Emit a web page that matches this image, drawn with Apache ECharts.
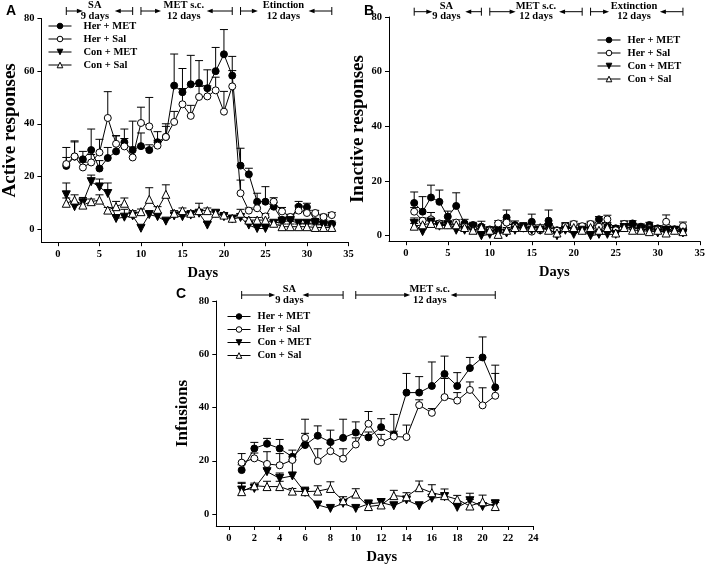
<!DOCTYPE html>
<html><head><meta charset="utf-8">
<script src="https://cdn.jsdelivr.net/npm/echarts@6/dist/echarts.min.js"></script>
<style>html,body{margin:0;padding:0;background:#fff}#c{width:708px;height:567px}</style>
</head><body><div id="c"></div>
<script>
// ---------------- DATA ----------------
const groups = ['Her + MET', 'Her + Sal', 'Con + MET', 'Con + Sal'];
const daysAB = [1,2,3,4,5,6,7,8,9,10,11,12,13,14,15,16,17,18,19,20,21,22,23,24,25,26,27,28,29,30,31,32,33];
const daysC = [1,2,3,4,5,6,7,8,9,10,11,12,13,14,15,16,17,18,19,20,21];
const xTicksAB = [0,5,10,15,20,25,30,35];
const xTicksC = [0,2,4,6,8,10,12,14,16,18,20,22,24];
const yTicks = [0,20,40,60,80];

// Panel A: active responses
const aHerMet    = [24,27.5,26.5,30,23,27,29.5,33,30,31.5,30,33,35,54.5,52,55,55.5,53.5,60,66.4,58.3,24.1,20.8,10.4,10.4,8.5,3.5,4,8.5,8.3,3,2.5,2];
const aHerMetErr = [7,6,3,8,3,4,6,5,11,5,2,4,5,12,9,11,8.5,7,9,9.4,7.3,6.6,2.3,3.2,5.7,1.5,1,1,2,1.5,1,1,1];
const aHerSal    = [24.7,27.6,23.4,25.3,29.1,42.2,32.4,31.4,27.2,40.3,39,31.7,35,40.7,47.4,43,50.2,50.4,52.7,44.6,54.2,13.6,7,7.9,4.8,10.4,6.7,4.6,7,6.1,6.1,4.6,5.3];
const aHerSalErr = [2.5,5.5,2,3,5,10,3,3,4,6,11,2,4,4,6,4,4,4,5,7.7,6,5,1,2,1,1.5,1.5,1,2,1,1,1,1];
const aConMet    = [13,8.5,10,18,16,13.5,4,4.5,5,0.3,5.5,4.7,3,5,4.7,5.3,6,1.5,6,4.7,3.8,4.4,1.5,0.2,0.2,2.2,2.8,3.2,2.2,2.2,2.2,1.5,0.9];
const aConMetErr = [4.5,1,2,2.5,3,4,1,3,1,1,1,1,1,1,1,1,1,1,1,1,1,1,1,1,1,1,1,1,1,1,1,1,1];
const aConSal    = [9.8,11,9.1,10.4,11,7.2,8.5,9.8,6,6.6,11.3,7.5,13.2,6,7,6,7,7,6,5.3,4.1,6,3.4,3.4,3.4,2.2,0.9,0.9,0.9,0.9,0.6,0.6,0.6];
const aConSalErr = [2,2,2,1,2,1,2,2,1,1,4.4,1,3.6,1,1,1,2.8,1,1,1,1,1.5,1,1,1,1,1,1,1,1,1,1,1];

// Panel B: inactive responses
const bHerMet    = [12,8.8,14,12.4,7,10.9,4.5,3.9,3.3,2.3,3.3,6.7,3.9,3.3,5.1,2.3,5.5,2,3.3,2,2.7,3.3,6,3.3,2.7,3.9,4.5,3.3,3.9,2.7,2.3,2.3,2];
const bHerMetErr = [4,5.5,4.5,4.3,2,4.8,1.5,1,2,1,1.5,2.7,1.5,1.5,2.8,1,3.9,1,1.5,1,1.5,1.5,1,1.5,1,1.5,1,1,1,1,1,1,1];
const bHerSal    = [8.8,5.5,6,4.5,3.9,4.8,3.3,2.7,2.3,2,4.5,4.8,3.3,2.7,1.5,2,3.3,1.8,3.5,4.3,3.5,4.3,3.3,6,2,4.3,3.3,2,2.7,2.3,5.1,2.3,3.5];
const bHerSalErr = [1.5,1,2.5,1,1.5,1,1,1,1,1,1,1,1,1,1,1,1,1,1,1,1,1,1,1.5,1,1,1,1,1,1,2.5,1,1.5];
const bConMet    = [4.5,1.5,5,3.5,4,2,2,3,0,0.5,1,1,2,3,2,2,3,0,2,0.5,2,0,0.5,0.5,0.5,3,3,2.5,2,1,2,2,1];
const bConMetErr = [2,1,1.5,1,1,1,1,1,1,1,1,1,1,1,1,1,1,1,1,1,1,1,1,1,1,1,1,1,1,1,1,1,1];
const bConSal    = [3.5,4,4.5,4,4,4,3,2,3,2,0.5,2,3,3,3,3,2,1,3,3,2,3,2,3,1,3,2,2,1.5,2,1,2,1.5];
const bConSalErr = [1,1.5,1,1,1,1,1,1,1,1,1,1,1,1,1,1,1,1,1,1,1,1,1,1,1,1,1,1,1,1,1,1,1];

// Panel C: infusions
const cHerMet    = [16.5,24.6,26.4,24.6,21.5,25.9,29.4,27,28.6,30.6,28.8,32.6,29.8,45.6,45.6,48.1,52.6,48.1,54.8,58.8,47.6];
const cHerMetErr = [2,2.3,2,3.4,2.5,4.4,3.7,4.5,7,4,2,3.2,7.6,7.2,6,9,6.7,5,4,7.7,8.3];
const cHerSal    = [19.3,20.9,18.8,18.3,20.3,28.6,19.9,23.6,20.8,26.1,33.9,26.9,29.1,28.9,40.9,38,43.9,42.6,46.6,40.8,44.4];
const cHerSalErr = [3.4,2,4.6,4.4,2,7,4.6,3,3.7,2.5,4.6,3,2,4.5,2,1.6,7,3,3,6.6,8.4];
const cConMet    = [9,9.6,15.9,13.4,14.3,8.1,3.4,2.1,4,2.1,3.8,4.3,3.1,5.3,3.1,5.9,6.5,2.5,5,2.8,3.8];
const cConMetErr = [2.5,1.5,1,2,6,2,1,1,1,1,1,1.5,1,1,1,1.5,1.5,1,2.8,1,1.5];
const cConSal    = [8.4,10.6,10.3,10.3,8.6,8.4,8.6,9.6,5,7.5,2.8,3.4,6.9,6.5,9.9,8,6.9,5.5,3,4.6,2.8];
const cConSalErr = [3.5,1,2,2,1,1.5,2,2.5,1.5,2,1.5,2,2,1.5,2.5,3,2.5,1.5,2.5,2.5,1.5];

const phasesA = [
  {from:1, to:9, top:'SA', bottom:'9 days'},
  {from:10, to:21, top:'MET s.c.', bottom:'12 days'},
  {from:22, to:33, top:'Etinction', bottom:'12 days'}
];
const phasesB = [
  {from:1, to:9, top:'SA', bottom:'9 days'},
  {from:10, to:21, top:'MET s.c.', bottom:'12 days'},
  {from:22, to:33, top:'Extinction', bottom:'12 days'}
];
const phasesC = [
  {from:1, to:9, top:'SA', bottom:'9 days'},
  {from:10, to:21, top:'MET s.c.', bottom:'12 days'}
];

// ---------------- STYLE / LAYOUT ----------------
const SERIF = '"Liberation Serif","Times New Roman",serif';
const SANS = '"Liberation Sans",Arial,sans-serif';
const markerStyles = [
  {symbol:'circle', rotate:0, fill:'#000'},
  {symbol:'circle', rotate:0, fill:'#fff'},
  {symbol:'triangle', rotate:180, fill:'#000'},
  {symbol:'triangle', rotate:0, fill:'#fff'}
];
// layout of arrows within each phase bracket: left arrow tip, text centre, right arrow tip (fractions)
const bracketLayout = [
  [[0.25,0.43,0.73],[0.22,0.47,0.72],[0.19,0.47,0.745]],
  [[0.27,0.48,0.76],[0.28,0.50,0.75],[0.20,0.47,0.75]],
  [[0.33,0.47,0.60],[0.39,0.53,0.68]]
];
const bracketY = [11, 11.7, 295];

const panels = [
  {days:daysAB, vals:[aHerMet,aHerSal,aConMet,aConSal], errs:[aHerMetErr,aHerSalErr,aConMetErr,aConSalErr],
   grid:{left:36, top:18.5, width:312.4, height:223.7}, xmin:-2, xmax:35, ymin:-5, ymax:80, xticks:xTicksAB,
   yname:'Active responses', ynameGap:18, ynameSize:19, phases:phasesA,
   legend:{left:48, top:20.5, pad:7}, daysPad:[0,0,0,16]},
  {days:daysAB, vals:[bHerMet,bHerSal,bConMet,bConSal], errs:[bHerMetErr,bHerSalErr,bConMetErr,bConSalErr],
   grid:{left:389, top:17, width:313, height:224.2}, xmin:-2, xmax:35, ymin:-2, ymax:80, xticks:xTicksAB,
   yname:'Inactive responses', ynameGap:13, ynameSize:19, phases:phasesB,
   legend:{left:597, top:34.5, pad:2}, daysPad:[0,0,0,20]},
  {days:daysC, vals:[cHerMet,cHerSal,cConMet,cConSal], errs:[cHerMetErr,cHerSalErr,cConMetErr,cConSalErr],
   grid:{left:216.3, top:301, width:317, height:225}, xmin:-1, xmax:24, ymin:-4.5, ymax:80, xticks:xTicksC,
   yname:'Infusions', ynameGap:25, ynameSize:17, phases:phasesC,
   legend:{left:227, top:311, pad:2}, daysPad:[0,0,0,14]}
];

function errRender(params, api) {
  const x = api.value(0), y = api.value(1), e = api.value(2);
  const p0 = api.coord([x, y]);
  const p1 = api.coord([x, y + e]);
  const hw = 4;
  return {type:'group', children:[
    {type:'line', shape:{x1:p0[0], y1:p0[1], x2:p1[0], y2:p1[1]}, style:{stroke:'#000', lineWidth:1}},
    {type:'line', shape:{x1:p1[0]-hw, y1:p1[1], x2:p1[0]+hw, y2:p1[1]}, style:{stroke:'#000', lineWidth:1}}
  ]};
}

const grids = [], xAxes = [], yAxes = [], series = [], legends = [];
panels.forEach((p, pi) => {
  grids.push(Object.assign({containLabel:false}, p.grid));
  xAxes.push({
    type:'value', gridIndex:pi, min:p.xmin, max:p.xmax,
    axisLine:{show:true, onZero:false, lineStyle:{color:'#000', width:1}},
    axisTick:{show:true, length:4, customValues:p.xticks, lineStyle:{color:'#000'}},
    axisLabel:{customValues:p.xticks, fontFamily:SERIF, fontWeight:'bold', fontSize:10.5, color:'#000', margin:7},
    splitLine:{show:false},
    name:'Days', nameLocation:'middle', nameGap:24,
    nameTextStyle:{fontFamily:SERIF, fontWeight:'bold', fontSize:14.5, color:'#000', padding:p.daysPad}
  });
  yAxes.push({
    type:'value', gridIndex:pi, min:p.ymin, max:p.ymax,
    axisLine:{show:true, onZero:false, lineStyle:{color:'#000', width:1}},
    axisTick:{show:true, length:4, customValues:yTicks, lineStyle:{color:'#000'}},
    axisLabel:{customValues:yTicks, fontFamily:SERIF, fontWeight:'bold', fontSize:10.5, color:'#000', margin:7},
    splitLine:{show:false},
    name:p.yname, nameLocation:'middle', nameGap:p.ynameGap,
    nameTextStyle:{fontFamily:SERIF, fontWeight:'bold', fontSize:p.ynameSize, color:'#000'}
  });
  legends.push({
    data:groups, orient:'vertical', left:p.legend.left, top:p.legend.top, padding:0,
    itemWidth:23, itemHeight:7, itemGap:2, selectedMode:false,
    lineStyle:{width:1, color:'#000'},
    itemStyle:{borderWidth:1, borderColor:'#000'},
    textStyle:{fontFamily:SERIF, fontWeight:'bold', fontSize:10.5, color:'#000', padding:[0,0,0,p.legend.pad]}
  });
  groups.forEach((g, gi) => {
    const m = markerStyles[gi];
    series.push({
      type:'custom', name:g + ' err', xAxisIndex:pi, yAxisIndex:pi, z:1, silent:true,
      renderItem:errRender,
      data:p.days.map((d, i) => [d, p.vals[gi][i], p.errs[gi][i]])
    });
    series.push({
      type:'line', name:g, xAxisIndex:pi, yAxisIndex:pi, z:3 + gi,
      data:p.days.map((d, i) => [d, p.vals[gi][i]]),
      symbol:m.symbol, symbolRotate:m.rotate, symbolSize:m.symbol === 'circle' ? 7 : 8,
      showAllSymbol:true,
      itemStyle:{color:m.fill, borderColor:'#000', borderWidth:1},
      lineStyle:{color:'#000', width:1},
      emphasis:{disabled:true}
    });
  });
});

const chart = echarts.init(document.getElementById('c'));
chart.setOption({
  animation:false,
  backgroundColor:'#fff',
  grid:grids, xAxis:xAxes, yAxis:yAxes, legend:legends, series:series,
  title:[
    {text:'A', left:1, top:-1, textStyle:{fontFamily:SANS, fontWeight:'bold', fontSize:14, color:'#000'}},
    {text:'B', left:359, top:-1, textStyle:{fontFamily:SANS, fontWeight:'bold', fontSize:14, color:'#000'}},
    {text:'C', left:171, top:282, textStyle:{fontFamily:SANS, fontWeight:'bold', fontSize:14, color:'#000'}}
  ]
});

// phase brackets, positioned through the x axes
const gfx = [];
const FONT = 'bold 10.5px ' + SERIF;
panels.forEach((p, pi) => {
  p.phases.forEach((ph, k) => {
    const x0 = chart.convertToPixel({xAxisIndex:pi}, ph.from);
    const x1 = chart.convertToPixel({xAxisIndex:pi}, ph.to);
    const w = x1 - x0;
    const [la, c, ra] = bracketLayout[pi][k];
    const y = bracketY[pi];
    const xl = x0 + la * w, xc = x0 + c * w, xr = x0 + ra * w;
    const st = {stroke:'#000', lineWidth:1};
    gfx.push({type:'line', shape:{x1:x0, y1:y-4, x2:x0, y2:y+4}, style:st, silent:true});
    gfx.push({type:'line', shape:{x1:x1, y1:y-4, x2:x1, y2:y+4}, style:st, silent:true});
    gfx.push({type:'line', shape:{x1:x0, y1:y, x2:xl-5, y2:y}, style:st, silent:true});
    gfx.push({type:'line', shape:{x1:xr+5, y1:y, x2:x1, y2:y}, style:st, silent:true});
    gfx.push({type:'polygon', shape:{points:[[xl-6,y-2.2],[xl,y],[xl-6,y+2.2]]}, style:{fill:'#000'}, silent:true});
    gfx.push({type:'polygon', shape:{points:[[xr+6,y-2.2],[xr,y],[xr+6,y+2.2]]}, style:{fill:'#000'}, silent:true});
    gfx.push({type:'text', x:xc, y:y-5.5, style:{text:ph.top, font:FONT, fill:'#000', align:'center', verticalAlign:'middle'}, silent:true});
    gfx.push({type:'text', x:xc, y:y+5, style:{text:ph.bottom, font:FONT, fill:'#000', align:'center', verticalAlign:'middle'}, silent:true});
  });
});
chart.setOption({graphic:gfx});
</script>
</body></html>
